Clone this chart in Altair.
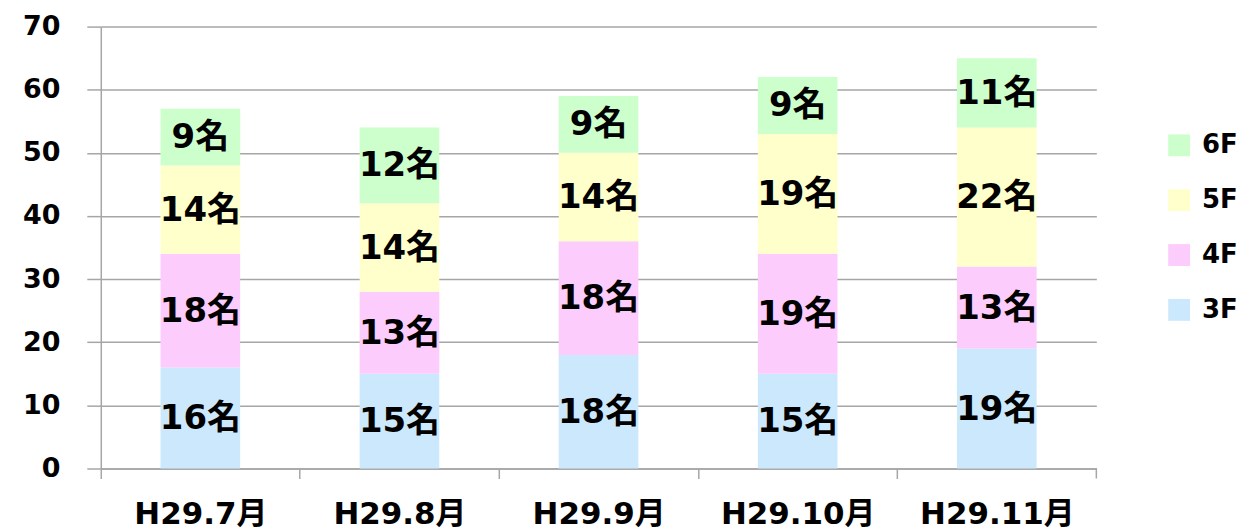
import altair as alt
import pandas as pd

months = ["H29.7月", "H29.8月", "H29.9月", "H29.10月", "H29.11月"]
floors = ["3F", "4F", "5F", "6F"]
v3F = [16, 15, 18, 15, 19]
v4F = [18, 13, 18, 19, 13]
v5F = [14, 14, 14, 19, 22]
v6F = [9, 12, 9, 9, 11]
colors = {"6F": "#CCFFCC", "5F": "#FFFFCC", "4F": "#FCCCFC", "3F": "#CCE8FC"}

rows = []
for fi, (f, vals) in enumerate(zip(floors, [v3F, v4F, v5F, v6F])):
    for m, v in zip(months, vals):
        rows.append({"month": m, "floor": f, "idx": fi, "value": v, "label": f"{v}名"})
df = pd.DataFrame(rows)

FONT = "DejaVu Sans, Noto Sans CJK JP"
W, H = 998, 443
GRAY = "#A6A6A6"

legend_order = ["6F", "5F", "4F", "3F"]

x_axis = alt.Axis(labelAngle=0, labelFont=FONT, labelFontSize=31, labelFontWeight="bold",
                  labelColor="black", tickOffset=-100, labelOffset=100, tickSize=10,
                  tickColor=GRAY, domainColor=GRAY, tickWidth=1.5, domainWidth=1.5,
                  labelPadding=21, grid=False, title=None)
y_axis = alt.Axis(values=list(range(0, 71, 10)), labelFont=FONT, labelFontSize=27,
                  labelFontWeight="bold", labelColor="black", tickSize=14,
                  tickColor=GRAY, domainColor=GRAY, gridColor=GRAY,
                  tickWidth=1.5, domainWidth=1.5, gridWidth=1.5, labelPadding=27,
                  grid=True, title=None)
x_scale = alt.Scale(paddingInner=0.6, paddingOuter=0.3)
y_scale = alt.Scale(domain=[0, 70], nice=False)

bars = alt.Chart(df).mark_bar().encode(
    x=alt.X("month:N", sort=months, scale=x_scale, axis=x_axis),
    y=alt.Y("value:Q", stack="zero", scale=y_scale, axis=y_axis),
    color=alt.Color("floor:N",
                    scale=alt.Scale(domain=legend_order, range=[colors[f] for f in legend_order]),
                    legend=alt.Legend(title=None, labelFont=FONT, labelFontSize=26,
                                      labelFontWeight="bold", labelColor="black",
                                      symbolType="square", symbolSize=480, symbolStrokeWidth=0,
                                      rowPadding=29, labelOffset=10, orient="none",
                                      legendX=1068, legendY=106)),
    order=alt.Order("idx:Q", sort="ascending"),
)

labels = alt.Chart(df).transform_stack(
    stack="value", groupby=["month"], as_=["y0", "y1"], sort=[alt.SortField("idx", order="ascending")]
).transform_calculate(
    mid="(datum.y0 + datum.y1) / 2"
).mark_text(font=FONT, fontSize=34, fontWeight="bold", color="black", dy=1).encode(
    x=alt.X("month:N", sort=months, scale=x_scale, axis=x_axis),
    y=alt.Y("mid:Q", scale=y_scale, axis=y_axis),
    text="label:N",
)

end_tick = alt.Chart(pd.DataFrame({"a": [0]})).mark_rule(color=GRAY, strokeWidth=1.5).encode(
    x=alt.value(W), y=alt.value(H), y2=alt.value(H + 10)
)

chart = alt.layer(bars, labels, end_tick).properties(
    width=W, height=H, padding={"left": 14, "top": 4, "right": 0, "bottom": 0}
).configure_view(stroke=None)

chart.save("out.html", embed_options={"renderer": "svg", "actions": False})
